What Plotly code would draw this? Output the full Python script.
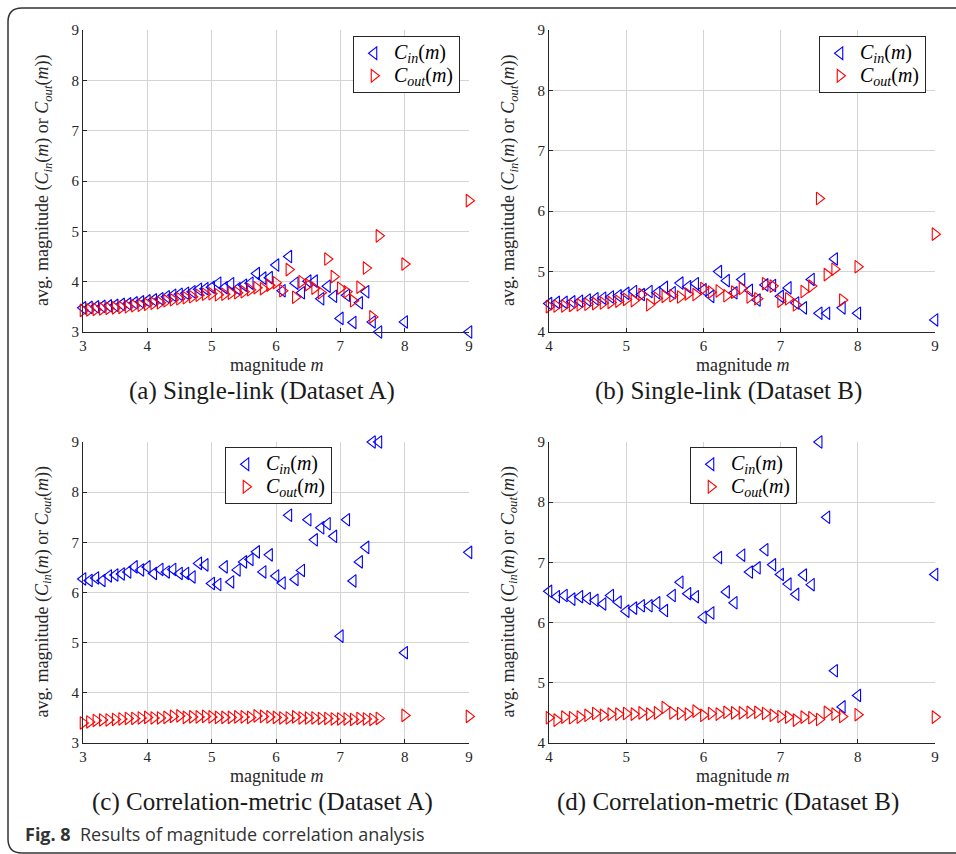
import plotly.graph_objects as go

W, H = 956, 854

# ---------------- data ----------------
mag_A = [3.0, 3.1, 3.2, 3.3, 3.4, 3.5, 3.6, 3.7, 3.8, 3.9,
         4.0, 4.1, 4.2, 4.3, 4.4, 4.5, 4.6, 4.7, 4.8, 4.9,
         5.0, 5.1, 5.2, 5.3, 5.4, 5.5, 5.6, 5.7, 5.8, 5.9,
         6.0, 6.1, 6.2, 6.3, 6.4, 6.5, 6.6, 6.7, 6.8, 6.9,
         7.0, 7.1, 7.2, 7.3, 7.4, 7.5, 7.6, 8.0, 9.0]

a_cin = [3.48, 3.49, 3.50, 3.51, 3.52, 3.53, 3.55, 3.56, 3.58, 3.60,
         3.62, 3.64, 3.66, 3.70, 3.73, 3.75, 3.77, 3.80, 3.85, 3.86,
         3.89, 3.97, 3.88, 3.96, 3.86, 3.93, 3.97, 4.16, 4.07, 4.08,
         4.33, 3.82, 4.50, 3.97, 3.78, 4.01, 4.01, 3.66, 3.91, 3.71,
         3.27, 3.73, 3.19, 3.58, 3.80, 3.20, 3.00, 3.20, 3.00]
a_cout = [3.43, 3.44, 3.45, 3.46, 3.47, 3.48, 3.49, 3.50, 3.52, 3.53,
          3.55, 3.57, 3.58, 3.62, 3.64, 3.66, 3.68, 3.70, 3.73, 3.75,
          3.76, 3.74, 3.75, 3.77, 3.78, 3.80, 3.84, 3.88, 3.86, 3.93,
          3.98, 3.82, 4.24, 3.69, 4.00, 3.94, 3.87, 3.78, 4.45, 4.10,
          3.87, 3.80, 3.62, 3.89, 4.27, 3.30, 4.91, 4.35, 5.61]

mag_B = [4.0, 4.1, 4.2, 4.3, 4.4, 4.5, 4.6, 4.7, 4.8, 4.9,
         5.0, 5.1, 5.2, 5.3, 5.4, 5.5, 5.6, 5.7, 5.8, 5.9,
         6.0, 6.1, 6.2, 6.3, 6.4, 6.5, 6.6, 6.7, 6.8, 6.9,
         7.0, 7.1, 7.2, 7.3, 7.4, 7.5, 7.6, 7.7, 7.8, 8.0, 9.0]

b_cin = [4.47, 4.49, 4.49, 4.50, 4.51, 4.53, 4.55, 4.56, 4.58, 4.60,
         4.64, 4.67, 4.62, 4.67, 4.65, 4.74, 4.65, 4.81, 4.75, 4.80,
         4.70, 4.59, 5.00, 4.85, 4.65, 4.87, 4.69, 4.53, 4.78, 4.77,
         4.59, 4.73, 4.48, 4.40, 4.87, 4.31, 4.31, 5.21, 4.40, 4.31, 4.20]
b_cout = [4.42, 4.43, 4.43, 4.44, 4.45, 4.46, 4.47, 4.48, 4.49, 4.51,
          4.54, 4.52, 4.62, 4.45, 4.56, 4.59, 4.60, 4.58, 4.63, 4.62,
          4.72, 4.66, 4.68, 4.60, 4.66, 4.72, 4.58, 4.55, 4.80, 4.76,
          4.51, 4.55, 4.45, 4.67, 4.76, 6.21, 4.95, 5.04, 4.53, 5.08, 5.62]

c_cin = [6.27, 6.24, 6.29, 6.24, 6.33, 6.35, 6.37, 6.41, 6.51, 6.45,
         6.51, 6.38, 6.46, 6.41, 6.46, 6.38, 6.38, 6.31, 6.58, 6.55,
         6.18, 6.16, 6.51, 6.21, 6.45, 6.61, 6.66, 6.81, 6.41, 6.75,
         6.33, 6.19, 7.54, 6.26, 6.44, 7.45, 7.05, 7.29, 7.37, 7.12,
         5.13, 7.45, 6.23, 6.61, 6.90, 9.00, 9.00, 4.80, 6.80]
c_cout = [3.40, 3.42, 3.45, 3.46, 3.46, 3.47, 3.48, 3.49, 3.49, 3.50,
          3.51, 3.50, 3.50, 3.51, 3.53, 3.54, 3.51, 3.52, 3.52, 3.53,
          3.52, 3.51, 3.51, 3.51, 3.52, 3.52, 3.51, 3.54, 3.53, 3.52,
          3.51, 3.50, 3.50, 3.52, 3.50, 3.50, 3.50, 3.49, 3.49, 3.48,
          3.48, 3.48, 3.47, 3.49, 3.48, 3.47, 3.49, 3.55, 3.53]

d_cin = [6.52, 6.43, 6.45, 6.39, 6.43, 6.40, 6.37, 6.31, 6.45, 6.34,
         6.19, 6.24, 6.28, 6.28, 6.33, 6.20, 6.45, 6.67, 6.48, 6.43,
         6.09, 6.16, 7.08, 6.51, 6.33, 7.12, 6.84, 6.91, 7.21, 6.96,
         6.80, 6.64, 6.47, 6.79, 6.63, 9.00, 7.75, 5.20, 4.60, 4.79, 6.80]
d_cout = [4.42, 4.38, 4.43, 4.42, 4.43, 4.46, 4.49, 4.46, 4.48, 4.48,
          4.49, 4.48, 4.50, 4.48, 4.50, 4.59, 4.50, 4.49, 4.48, 4.53,
          4.46, 4.49, 4.48, 4.51, 4.50, 4.50, 4.51, 4.51, 4.49, 4.46,
          4.44, 4.43, 4.38, 4.43, 4.42, 4.39, 4.51, 4.48, 4.44, 4.47, 4.43]

x_ticks_A = [3, 4, 5, 6, 7, 8, 9]
x_ticks_B = [4, 5, 6, 7, 8, 9]
y_ticks_A = [3, 4, 5, 6, 7, 8, 9]
y_ticks_B = [4, 5, 6, 7, 8, 9]

captions = ["(a) Single-link (Dataset A)", "(b) Single-link (Dataset B)",
            "(c) Correlation-metric (Dataset A)", "(d) Correlation-metric (Dataset B)"]
fig_caption_bold = "Fig. 8"
fig_caption_text = "Results of magnitude correlation analysis"

# ---------------- layout helpers ----------------
def px_x(p):
    return p / W

def px_y(p):
    return 1 - p / H

SERIF = "Liberation Serif"
BLUE = "#0000ff"
RED = "#ff0000"

panels = [
    (mag_A, a_cin, a_cout, x_ticks_A, y_ticks_A, [3, 9], [3, 9], 83, 469, 30, 332, 460, 36, 262),
    (mag_B, b_cin, b_cout, x_ticks_B, y_ticks_B, [4, 9], [4, 9], 549, 935, 30, 332, 926, 36, 728),
    (mag_A, c_cin, c_cout, x_ticks_A, y_ticks_A, [3, 9], [3, 9], 83, 469, 442, 743, 332, 447, 262),
    (mag_B, d_cin, d_cout, x_ticks_B, y_ticks_B, [4, 9], [4, 9], 549, 935, 442, 743, 797, 447, 728),
]

LEG_SPAN = '<span style="font-size:20px">'
cin_name = LEG_SPAN + "<i>C</i><sub><i>in</i></sub>(<i>m</i>)</span>"
cout_name = LEG_SPAN + "<i>C</i><sub><i>out</i></sub>(<i>m</i>)</span>"
ytitle = ("avg. magnitude (<i>C</i><sub><i>in</i></sub>(<i>m</i>) or "
          "<i>C</i><sub><i>out</i></sub>(<i>m</i>))")

fig = go.Figure()
layout = dict(
    width=W, height=H, margin=dict(l=0, r=0, t=0, b=0, autoexpand=False),
    paper_bgcolor="white", plot_bgcolor="white",
    font=dict(family=SERIF, size=15, color="#262626"),
    showlegend=True,
)
annotations = []

for i, (mag, cin, cout, xt, yt, xr, yr, L, R, T, B, lgr, lgt, capx) in enumerate(panels):
    n = i + 1
    xa = "x" if n == 1 else f"x{n}"
    ya = "y" if n == 1 else f"y{n}"
    lg = "legend" if n == 1 else f"legend{n}"
    fig.add_trace(go.Scatter(
        x=mag, y=cin, mode="markers", name=cin_name, xaxis=xa, yaxis=ya,
        legend=lg, cliponaxis=False,
        marker=dict(symbol="triangle-left-open", size=11, color=BLUE,
                    line=dict(width=1.1, color=BLUE))))
    fig.add_trace(go.Scatter(
        x=mag, y=cout, mode="markers", name=cout_name, xaxis=xa, yaxis=ya,
        legend=lg, cliponaxis=False,
        marker=dict(symbol="triangle-right-open", size=11, color=RED,
                    line=dict(width=1.1, color=RED))))
    axis_common = dict(
        showgrid=True, gridcolor="#d4d4d4", gridwidth=1,
        showline=True, linecolor="#262626", linewidth=1.2, mirror=False,
        ticks="inside", ticklen=4, tickcolor="#262626",
        tickfont=dict(family=SERIF, size=15, color="#262626"),
        zeroline=False, fixedrange=True, automargin=False,
    )
    layout[f"xaxis{'' if n == 1 else n}"] = dict(
        axis_common, domain=[px_x(L), px_x(R)], range=xr, tickvals=xt,
        anchor=ya)
    layout[f"yaxis{'' if n == 1 else n}"] = dict(
        axis_common, domain=[px_y(B), px_y(T)], range=yr, tickvals=yt,
        anchor=xa)
    layout[lg] = dict(
        x=px_x(lgr), y=px_y(lgt), xanchor="right", yanchor="top",
        bgcolor="white", bordercolor="#262626", borderwidth=1,
        font=dict(family=SERIF, size=15, color="#000000"),
        itemwidth=30, tracegroupgap=0,
    )
    cx = (L + R) / 2
    cy = (T + B) / 2
    annotations.append(dict(
        x=px_x(cx), y=px_y(B + 33), xref="paper", yref="paper",
        text="magnitude <i>m</i>", showarrow=False,
        font=dict(family=SERIF, size=18, color="#262626"),
        xanchor="center", yanchor="middle"))
    annotations.append(dict(
        x=px_x(L - 40), y=px_y(cy), xref="paper", yref="paper",
        text=ytitle, showarrow=False, textangle=-90,
        font=dict(family=SERIF, size=18, color="#262626"),
        xanchor="center", yanchor="middle"))
    annotations.append(dict(
        x=px_x(capx), y=px_y(B + 59), xref="paper", yref="paper",
        text=captions[i], showarrow=False,
        font=dict(family=SERIF, size=25, color="#1a1a1a"),
        xanchor="center", yanchor="middle"))

annotations.append(dict(
    x=px_x(23), y=px_y(834), xref="paper", yref="paper",
    text=f"<b>{fig_caption_bold}</b>&nbsp;&nbsp;{fig_caption_text}", showarrow=False,
    font=dict(family="Open Sans", size=18, color="#333333"),
    xanchor="left", yanchor="middle"))

layout["annotations"] = annotations

# rounded frame around the figure (open to the right)
def P(x, y):
    return f"{px_x(x):.5f},{px_y(y):.5f}"

frame_path = (f"M {P(1000, 8)} L {P(22, 8)} Q {P(8, 8)} {P(8, 22)} "
              f"L {P(8, 839)} Q {P(8, 853)} {P(22, 853)} L {P(1000, 853)}")
layout["shapes"] = [dict(type="path", path=frame_path, xref="paper", yref="paper",
                         line=dict(color="#333333", width=1.5))]

fig.update_layout(**layout)
fig.write_html(
    "out.html",
    config={"displayModeBar": False},
    post_script="document.body.style.margin='0';document.body.style.overflow='hidden';",
)
